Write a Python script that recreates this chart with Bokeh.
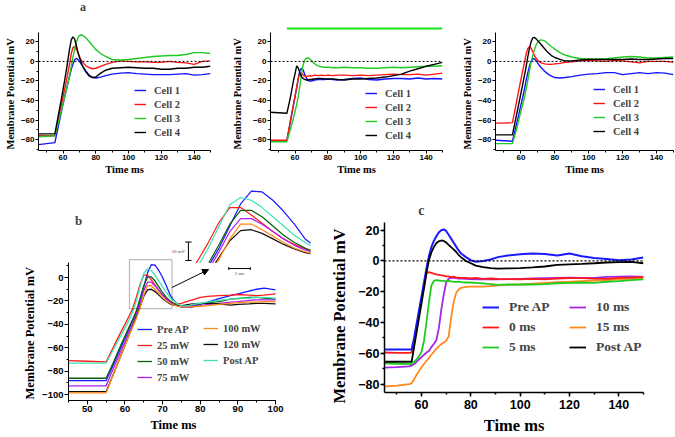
import numpy as np
from bokeh.plotting import figure
from bokeh.models import (Range1d, Span, Label, Legend, LegendItem, SingleIntervalTicker,
                          BoxAnnotation, Arrow, NormalHead, Title)
from bokeh.layouts import column, row
from bokeh.embed import file_html
from bokeh.resources import INLINE

# ---------------- data ----------------
cell_names = ["Cell 1", "Cell 2", "Cell 3", "Cell 4"]
a_time = [45, 50, 55, 57, 59, 61, 62, 63, 64, 65, 66, 67, 68, 69, 70, 71, 72, 74, 76, 78, 80,
          83, 86, 90, 95, 100, 105, 110, 115, 120, 125, 130, 135, 140, 145, 150]

a1_cell1 = [-85, -84, -83, -67, -51, -36, -29, -22, -15, -8, -3, 1.5, 3, 2, 0, -2.5, -5, -10, -14, -16.5, -17,
            -16, -14.5, -13, -12, -11.5, -12.5, -13, -13.5, -13.5, -13.5, -13, -12.5, -14, -13.5, -12.5]
a1_cell2 = [-76, -76, -76, -60, -44, -28, -20, -11, -2, 8, 14, 15, 13, 9, 5, 1.5, -1, -4.5, -6.5, -7.5, -7,
            -5, -3, -1, 0.5, 0, -0.5, -0.5, -1, -1, 0, -1, -1.5, -3, 0, 0.5]
a1_cell3 = [-77, -76.5, -76, -63, -50, -36, -29, -22, -14, -5, 4, 12, 19, 24, 26.5, 27, 26.5, 24, 20, 16, 12,
            8, 5, 2, 1.5, 2, 3, 4, 5, 5.5, 6, 6, 7, 9, 9, 8]
a1_cell4 = [-74, -74, -74, -56, -38, -19, -9, 2, 13, 22, 25, 23, 17, 10, 4, -1, -5, -11, -15, -16.5, -16,
            -12, -9, -7, -6.5, -6, -6.5, -7, -7, -8, -8, -7, -7, -6, -6, -5]

a2_cell1 = [-81, -81, -81, -63, -45, -27, -17, -9, -7, -9, -14, -17, -19.5, -20, -20, -19.5, -19, -18.5, -18.5,
            -18.5, -18, -18.5, -19, -18.5, -17.5, -17, -18.5, -19, -18, -17.5, -17.5, -18, -17, -18, -17.5, -18]
a2_cell2 = [-80.5, -80.5, -80.5, -62, -44, -26, -17, -12, -12, -14, -15, -15.5, -15, -14.5, -15, -14.5, -14,
            -14.5, -14, -14.5, -14, -14.5, -14, -14, -14.5, -14, -14.5, -14, -13.5, -13, -13.5, -13.5, -13,
            -14, -13, -12]
a2_cell3 = [-82, -82, -82, -70, -58, -44, -35, -24, -12, -3, 1.5, 3.5, 3.5, 2.5, 1, -1, -2.5, -4.5, -5.5, -6,
            -6, -6.5, -6.5, -6, -6.5, -6.5, -7, -7, -6.5, -6, -6.5, -6, -5.5, -5, -5, -4.5]
a2_cell4 = [-52, -52.5, -53, -38, -20, -4.5, -7, -12, -15.5, -17.5, -18.5, -19, -19, -18.5, -18.5, -18, -18,
            -17.5, -17.5, -18, -18, -18, -18.5, -19, -18, -18, -17.5, -17, -16, -14.5, -13, -10, -7.5, -5,
            -3, -1]
light_on = [55, 150]

a3_cell1 = [-80.5, -81, -81.5, -67, -52, -37, -29, -20, -12, -5, 0, 3, 2.5, 0.5, -2, -4.5, -6.5, -10, -13,
            -15, -16.5, -17, -16.5, -15.5, -14, -13, -12.5, -11.5, -11.5, -13.5, -12.5, -11.5, -12.5,
            -11.5, -12, -13.5]
a3_cell2 = [-63, -63, -62.5, -45, -27, -10, -2, 7, 13, 15, 13.5, 10, 6, 3, 1, -0.5, -1.5, -2.5, -3, -3, -2.5,
            -2, -1, -0.5, 0.5, 1, 0.5, 0, 1, 0.5, -0.5, -1.5, 0, 0, 0, -1]
a3_cell3 = [-84, -84, -84, -72, -58, -44, -37, -29, -20, -10, -1, 6, 12, 17, 20, 21.5, 22, 21, 18, 15, 12.5,
            9, 6.5, 4.5, 3, 2.5, 2.5, 2.5, 3.5, 4.5, 5, 4.5, 3.5, 3.5, 4, 4.5]
a3_cell4 = [-75, -75, -75, -58, -41, -24, -15, -6, 4, 13, 20, 24, 24.5, 23, 21, 19, 17, 13, 9, 6, 4,
            2, 0.5, 0.5, 1.5, 2, 2, 2, 2, 2, 2.5, 2, 2, 2.5, 3, 3]

b_time = [45, 50, 55, 57, 59, 60, 61, 62, 63, 64, 65, 66, 67, 68, 69, 70, 71, 72, 73, 74, 75, 76, 77, 78,
          80, 82, 85, 88, 90, 93, 95, 97, 100]
b_names = ["Pre AP", "25 mW", "50 mW", "75 mW", "100 mW", "120 mW", "Post AP"]
b_pre = [-88, -88, -88, -74, -59, -52, -44.5, -37, -30, -20, -8, 4, 11, 10.5, 6, 0, -7, -15, -19.5, -22.5,
         -24.5, -25.5, -25.5, -25, -23, -21, -18, -15.5, -14, -11.5, -10, -9, -10.5]
b_25 = [-71, -71.5, -72, -59, -46, -40, -33.5, -27, -17, -6, 2, 2, -2, -6.5, -11, -15, -18, -20.5, -22, -22.5,
        -22, -21, -20, -19, -17, -16, -15.5, -15, -14.5, -15, -15.5, -15, -14]
b_50 = [-86, -86, -86, -72, -57, -50, -43, -36, -28.5, -18, -7, 0.5, 0.5, -3, -8, -13, -17, -20, -22.5, -24,
        -25, -25, -24.5, -24, -22.5, -21.5, -20.5, -18.5, -18, -17, -17, -17.5, -18.5]
b_75 = [-92.5, -92.5, -92.5, -77, -62, -55, -47, -40, -32, -22, -11, -4, -4, -7, -11, -15, -18.5, -21, -23,
        -24.5, -25, -25.5, -25, -24.5, -24, -23, -22, -21, -20.5, -19.5, -19, -19, -19]
b_100 = [-98.5, -98.5, -98.5, -82, -66, -58, -50, -42.5, -35, -26, -15, -7, -7, -10, -13.5, -17, -20, -22,
         -23.5, -24.5, -25, -25, -25, -25, -24.5, -24, -23, -22, -21.5, -21, -21, -20.5, -20.5]
b_120 = [-97.5, -97.5, -97.5, -82, -66, -58, -50, -42, -34, -25, -16, -10.5, -10, -12, -15, -18, -20.5,
         -22.5, -23.5, -24, -24, -23.5, -23, -22.5, -22, -22, -22.5, -23.5, -23, -22.5, -22, -22, -22.5]
b_post = [-73, -73, -73, -61, -49, -43, -37, -30, -20, -8, 3.5, 7.5, 6, 2, -3, -8, -13, -17, -20, -22.5,
          -24, -24.5, -24, -23, -22, -21, -19.5, -18.5, -17.5, -17.5, -17, -17, -17.5]
zoom_box_t = [61.2, 72.5]
zoom_box_v = [-26.5, 15.3]
inset_floor = -28
scale_bar_ms = 2
scale_bar_mv = 10

c_time = [45, 50, 55, 56, 57, 58, 59, 60, 61, 62, 63, 64, 65, 66, 67, 68, 69, 70, 71, 72, 73, 74, 75, 76,
          78, 80, 82, 85, 88, 91, 95, 100, 105, 110, 115, 120, 125, 130, 135, 140, 145, 150]
c_names = ["Pre AP", "0 ms", "5 ms", "10 ms", "15 ms", "Post AP"]
c_pre = [-57.5, -57.5, -57.5, -57.5, -50, -41, -32, -23, -14, -5, 3, 9, 13, 16, 18.5, 20, 20.5, 19.5, 17,
         14.5, 12, 9.5, 7, 5, 2.5, 0.5, -0.5, 0, 1, 2.5, 3.5, 4.3, 4.8, 4.5, 3.5, 4.8, 3, 2, 1.3, 0.5, 1, 2.3]
c_0ms = [-59.5, -59.7, -59.7, -59.5, -52, -43, -34, -25, -16, -8, -7.3, -7.8, -8.3, -8.7, -9, -9.3, -9.6,
         -10, -10, -10.5, -10.2, -10.6, -10.8, -11, -11, -11.3, -11, -11.6, -11.4, -11.6, -11.8, -12, -11.7,
         -12, -11.4, -11.2, -11.2, -11.5, -11.6, -11, -10.8, -10.4]
c_5ms = [-66.5, -66.8, -67, -67, -65.5, -64, -62, -59, -52, -40, -27, -16, -13, -12.5, -12.7, -13, -13,
         -13.2, -13, -13.3, -13.5, -13.6, -13.5, -13.8, -14, -14, -14.2, -14.6, -15, -15.5, -15.3, -15.3,
         -15.3, -15, -14.5, -14.2, -14, -14.2, -13.5, -13.1, -12.5, -12]
c_10ms = [-69.3, -69, -68.5, -68, -67, -65.5, -64, -62.5, -61, -59.5, -58.5, -56, -54, -51.5, -44, -32, -22,
          -14, -11.5, -11, -11, -11.2, -11.4, -11.5, -11.6, -11.8, -12, -12, -12, -12, -11.8, -11.6, -11.4,
          -11.2, -11, -10.8, -11, -11, -10.4, -10.2, -10, -10.4]
c_15ms = [-81.6, -81, -80, -79.5, -77, -74, -71.5, -69, -67, -65, -63, -61, -59, -57, -55.5, -54, -53, -52,
          -49, -37, -27, -21, -18.5, -17.5, -16.8, -16.7, -16.7, -16.7, -16.3, -15.9, -15.6, -15.3, -14.8,
          -14.2, -13.8, -13.5, -13.1, -12.7, -12.4, -12, -11.6, -11.2]
c_post = [-65.5, -65.5, -65.5, -65.5, -56, -46.5, -37, -27.5, -18, -8, 0.5, 5.5, 9, 11.5, 12.8, 13.3, 13, 12,
          10.5, 9, 7.5, 6, 4, 2.5, 0, -1.5, -3, -4, -4.7, -5, -4.8, -4.6, -4.2, -3.6, -2.5, -2.2, -1.9, -1.5,
          -1, -0.7, -0.6, -1.5]

# ---------------- styling ----------------
BLUE, RED, GREEN, BLACK = "#1414ff", "#ff1414", "#22c922", "#000000"
SERIF, SANS = "Liberation Serif", "Liberation Sans"
YLABEL = "Membrane Potential mV"
XLABEL = "Time ms"


def base_fig(w, h, xr, yr, bl, br, bt, bb):
    p = figure(width=w, height=h, x_range=xr, y_range=yr, output_backend="svg",
               toolbar_location=None, min_border_left=bl, min_border_right=br,
               min_border_top=bt, min_border_bottom=bb)
    p.frame_align = False
    p.grid.visible = False
    p.outline_line_color = None
    return p


def style_axes(p, xint, yint, tick_px, lab_px, tick_out, minor_out, lw, xstand, ystand):
    p.xaxis.ticker = SingleIntervalTicker(interval=xint, num_minor_ticks=2)
    p.yaxis.ticker = SingleIntervalTicker(interval=yint, num_minor_ticks=2)
    for ax, (ms, als) in ((p.xaxis[0], xstand), (p.yaxis[0], ystand)):
        ax.axis_line_width = lw
        ax.major_tick_line_width = lw
        ax.minor_tick_line_width = lw
        ax.major_tick_in = 0
        ax.major_tick_out = tick_out
        ax.minor_tick_in = 0
        ax.minor_tick_out = minor_out
        ax.major_label_text_font = SANS
        ax.major_label_text_font_style = "bold"
        ax.major_label_text_font_size = f"{tick_px}px"
        ax.major_label_text_color = "black"
        ax.major_label_text_line_height = 1.0
        ax.axis_label_text_font = SERIF
        ax.axis_label_text_font_style = "bold"
        ax.axis_label_text_font_size = f"{lab_px}px"
        ax.axis_label_text_color = "black"
        ax.axis_label_text_line_height = 1.0
        ax.major_label_standoff = ms
        ax.axis_label_standoff = als


def side_title(p, text, side, font_px, offset, standoff, valign):
    t = Title(text=text, align="left", offset=offset, standoff=standoff, vertical_align=valign,
              text_font=SERIF, text_font_style="bold", text_font_size=f"{font_px}px",
              text_color="black")
    p.add_layout(t, side)


def add_legend(p, rends, labels, loc, font_px, glyph_w, row_h, standoff):
    leg = Legend(items=[LegendItem(label=l, renderers=[r]) for l, r in zip(labels, rends)],
                 location=loc, orientation="vertical", glyph_width=int(round(glyph_w)),
                 glyph_height=int(round(row_h)), label_height=int(round(row_h)),
                 label_standoff=int(round(standoff)), spacing=0, padding=0, margin=0,
                 border_line_alpha=0, background_fill_alpha=0,
                 label_text_font=SERIF, label_text_font_style="bold",
                 label_text_font_size=f"{font_px}px")
    p.add_layout(leg)


# ---------------- panel a ----------------
top_specs = [
    (222, 32, 12, [a1_cell1, a1_cell2, a1_cell3, a1_cell4], (96, 11), 4),
    (225, 43, 5, [a2_cell1, a2_cell2, a2_cell3, a2_cell4], (95, 8), 14),
    (228, 48, 2, [a3_cell1, a3_cell2, a3_cell3, a3_cell4], (98, 12), 4),
]
tops = []
for k, (w, bl, br, series, loc, ts) in enumerate(top_specs):
    p = base_fig(w, 181, Range1d(45, 150), Range1d(-91, 62.2), bl, br, 0, 31)
    style_axes(p, 20, 20, 8, 10.5, 3, 2, 1, (1, 1), (1, 1))
    p.xaxis.axis_label = XLABEL
    p.yaxis.bounds = (-91, 29.5)
    side_title(p, YLABEL, "left", 10.5, 1, ts, "bottom")
    p.add_layout(Span(location=0, dimension="width", line_color="black", line_dash="2 2", line_width=1))
    rends = []
    for vals, col in zip(series, [BLUE, RED, GREEN, BLACK]):
        rends.append(p.line(a_time, vals, line_color=col, line_width=1.4))
    add_legend(p, rends, cell_names, loc, 10.5, 12, 14, 8)
    tops.append(p)

tops[0].add_layout(Label(x=72.2, y=56, text="a", text_font=SERIF, text_font_style="bold",
                         text_font_size="12px", text_align="center", text_baseline="middle"))
tops[1].segment(x0=light_on[0], x1=light_on[1], y0=33.5, y1=33.5, line_color="#16e616", line_width=2)

# ---------------- panel b ----------------
pb = base_fig(320, 256, Range1d(45, 111.15), Range1d(-105, 80.3), 68, 3, 2, 37)
style_axes(pb, 10, 20, 9.5, 12.5, 4, 2, 1, (1, 1), (1, 1))
pb.xaxis.bounds = (45, 100)
pb.yaxis.bounds = (-105, 12.8)
side_title(pb, YLABEL, "left", 12.5, 1, 6, "bottom")
side_title(pb, XLABEL, "below", 12.5, 82, 6, "top")
pb.extra_x_ranges = {"ix": Range1d(50.0, 73.15)}
pb.extra_y_ranges = {"iy": Range1d(-102.8, 15.1)}

b_series = [b_pre, b_25, b_50, b_75, b_120, b_100, b_post]
b_series_names = ["Pre AP", "25 mW", "50 mW", "75 mW", "120 mW", "100 mW", "Post AP"]
b_colors = {"Pre AP": "#1a1aff", "25 mW": "#ff1a1a", "50 mW": "#0b5e0b", "75 mW": "#b41ef0",
            "100 mW": "#ff8a14", "120 mW": "#111111", "Post AP": "#3fe3b4"}
b_rend = {}
for name, vals in zip(b_series_names, b_series):
    b_rend[name] = pb.line(b_time, vals, line_color=b_colors[name], line_width=1.3)


def inset_part(t, v, t_hi, v_lo):
    t = np.asarray(t, float)
    v = np.asarray(v, float)
    i = int(np.argmax(v >= v_lo))
    xs, ys = [], []
    if i > 0:
        f = (v_lo - v[i - 1]) / (v[i] - v[i - 1])
        xs.append(t[i - 1] + f * (t[i] - t[i - 1]))
        ys.append(v_lo)
    j = i
    while j < len(t) and t[j] <= t_hi:
        xs.append(t[j])
        ys.append(v[j])
        j += 1
    if j < len(t) and xs[-1] < t_hi:
        xs.append(t_hi)
        ys.append(float(np.interp(t_hi, t, v)))
    return xs, ys


for name, vals in zip(b_series_names, b_series):
    xs, ys = inset_part(b_time, vals, zoom_box_t[1], inset_floor)
    pb.line(xs, ys, line_color=b_colors[name], line_width=1.2, x_range_name="ix", y_range_name="iy")

# scale bars of the inset
vx = 61.15
vy0 = -26.7
pb.segment(x0=[vx, vx - 0.3, vx - 0.3], x1=[vx, vx + 0.3, vx + 0.3],
           y0=[vy0, vy0, vy0 + scale_bar_mv], y1=[vy0 + scale_bar_mv, vy0, vy0 + scale_bar_mv],
           line_color="black", line_width=1, x_range_name="ix", y_range_name="iy")
hx0 = 64.9
hy = -31.1
pb.segment(x0=[hx0, hx0, hx0 + scale_bar_ms], x1=[hx0 + scale_bar_ms, hx0, hx0 + scale_bar_ms],
           y0=[hy, hy - 0.8, hy - 0.8], y1=[hy, hy + 0.8, hy + 0.8],
           line_color="black", line_width=1, x_range_name="ix", y_range_name="iy")
pb.add_layout(Label(x=60.85, y=vy0 + scale_bar_mv / 2, text=f"{scale_bar_mv} mV", text_font=SERIF,
                    text_font_size="5px", text_align="right", text_baseline="middle",
                    x_range_name="ix", y_range_name="iy"))
pb.add_layout(Label(x=hx0 + scale_bar_ms / 2, y=hy - 1.5, text=f"{scale_bar_ms} ms", text_font=SERIF,
                    text_font_size="5px", text_align="center", text_baseline="top",
                    x_range_name="ix", y_range_name="iy"))

pb.add_layout(BoxAnnotation(left=zoom_box_t[0], right=zoom_box_t[1], bottom=zoom_box_v[0],
                            top=zoom_box_v[1], fill_alpha=0, line_color="#222222", line_width=1.2))
pb.add_layout(Arrow(end=NormalHead(size=6, fill_color="black", line_color="black", line_width=1),
                    x_start=zoom_box_t[1], y_start=-8.5, x_end=82.2, y_end=6.8,
                    line_color="black", line_width=1))
pb.add_layout(Label(x=47.7, y=48.7, text="b", text_font=SERIF, text_font_style="bold",
                    text_font_size="13px", text_align="center", text_baseline="middle"))
add_legend(pb, [b_rend[n] for n in b_names[:4]], b_names[:4], (69, 15), 10.5, 15, 16, 5)
add_legend(pb, [b_rend[n] for n in b_names[4:]], b_names[4:], (135, 32), 10.5, 15, 16, 5)

# ---------------- panel c ----------------
pc = base_fig(355, 256, Range1d(45, 150), Range1d(-85.5, 39.3), 62, 32, 19, 41)
style_axes(pc, 20, 20, 12.5, 16.5, 4, 2, 1.5, (3, 4), (1, 1))
pc.xaxis.axis_label = XLABEL
pc.yaxis.bounds = (-85.5, 25.3)
side_title(pc, YLABEL, "left", 16.5, -11, 14, "bottom")
pc.add_layout(Span(location=0, dimension="width", line_color="black", line_dash="2 2", line_width=1.2))
c_colors = {"Pre AP": "#1a1aff", "0 ms": "#ff1a1a", "5 ms": "#1fcc1f", "10 ms": "#a626e8",
            "15 ms": "#ff8a1f", "Post AP": "#000000"}
c_rend = {}
for name, vals in [("15 ms", c_15ms), ("10 ms", c_10ms), ("5 ms", c_5ms), ("0 ms", c_0ms),
                   ("Pre AP", c_pre), ("Post AP", c_post)]:
    c_rend[name] = pc.line(c_time, vals, line_color=c_colors[name],
                           line_width=2.0 if name == "Pre AP" else 1.8)
pc.add_layout(Label(x=59.9, y=33, text="c", text_font=SERIF, text_font_style="bold",
                    text_font_size="14px", text_align="center", text_baseline="middle"))
add_legend(pc, [c_rend[n] for n in c_names[:3]], c_names[:3], (98, 35), 13.5, 17, 20, 10)
add_legend(pc, [c_rend[n] for n in c_names[3:]], c_names[3:], (185, 35), 13.5, 17, 20, 10)

layout = column(row(*tops), row(pb, pc))
open("out.html", "w").write(file_html(layout, INLINE))
